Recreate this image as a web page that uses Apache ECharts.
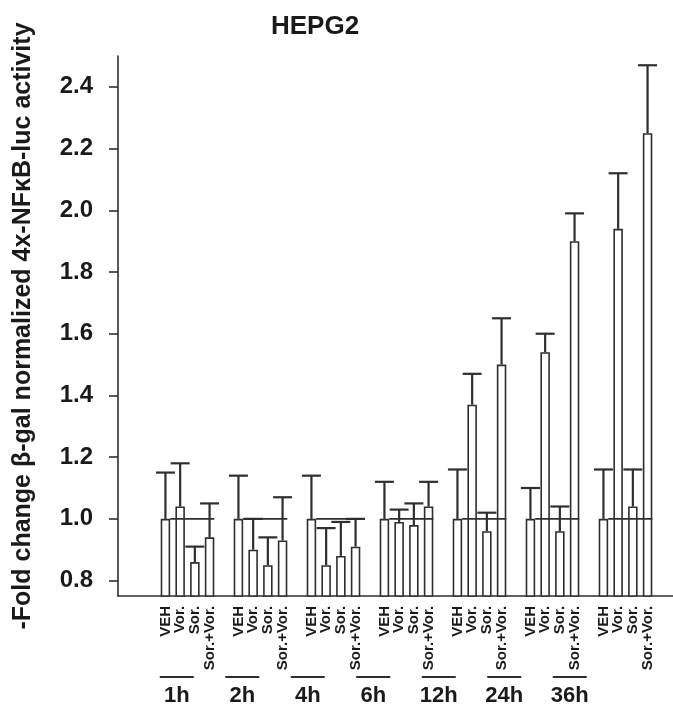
<!DOCTYPE html>
<html>
<head>
<meta charset="utf-8">
<title>HEPG2</title>
<script src="https://cdn.jsdelivr.net/npm/echarts@6/dist/echarts.min.js"></script>
<style>
  html, body { margin: 0; padding: 0; background: #fff; }
  #chart { width: 673px; height: 717px; }
</style>
</head>
<body>
<div id="chart"></div>
<script>
// Time points and treatments
const timePoints = ['1h', '2h', '4h', '6h', '12h', '24h', '36h'];
const treatments = ['VEH', 'Vor.', 'Sor.', 'Sor.+Vor.'];

// Mean fold change per treatment, one value per time point
const vehMean   = [1.00, 1.00, 1.00, 1.00, 1.00, 1.00, 1.00];
const vorMean   = [1.04, 0.90, 0.85, 0.99, 1.37, 1.54, 1.94];
const sorMean   = [0.86, 0.85, 0.88, 0.98, 0.96, 0.96, 1.04];
const sorVorMean = [0.94, 0.93, 0.91, 1.04, 1.50, 1.90, 2.25];

// Upper error (SD) per treatment
const vehErr    = [0.15, 0.14, 0.14, 0.12, 0.16, 0.10, 0.16];
const vorErr    = [0.14, 0.10, 0.12, 0.04, 0.10, 0.06, 0.18];
const sorErr    = [0.05, 0.09, 0.11, 0.07, 0.06, 0.08, 0.12];
const sorVorErr = [0.11, 0.14, 0.09, 0.08, 0.15, 0.09, 0.22];

// Y axis tick labels
const yTicks = [0.8, 1.0, 1.2, 1.4, 1.6, 1.8, 2.0, 2.2, 2.4];

const means = [vehMean, vorMean, sorMean, sorVorMean];
const errs = [vehErr, vorErr, sorErr, sorVorErr];

const FONT = '"Liberation Sans", Arial, Helvetica, sans-serif';
const INK = '#1a1a1a';
const LINE = '#2e2e2e';
const BAR_FRAC = 0.13;   // bar width as share of a category band
const GAP_FRAC = 0.55;   // gap between bars as share of bar width

// error bar data: [timeIndex, mean, mean + err, treatmentIndex]
const errData = [];
means.forEach((arr, k) => {
  arr.forEach((m, g) => errData.push([g, m, +(m + errs[k][g]).toFixed(3), k]));
});

// horizontal reference at the vehicle level of each time point
const refData = vehMean.map((v, g) => [g, v]);

function barOffset(api, k) {
  const band = api.size([1, 0])[0];
  const bw = band * BAR_FRAC;
  const step = bw * (1 + GAP_FRAC);
  return { band: band, bw: bw, off: (k - 1.5) * step };
}

const barSeries = treatments.map((name, k) => ({
  name: name,
  type: 'bar',
  xAxisIndex: 0,
  yAxisIndex: 0,
  data: means[k],
  barWidth: (BAR_FRAC * 100) + '%',
  barGap: (GAP_FRAC * 100) + '%',
  itemStyle: { color: '#fff', borderColor: LINE, borderWidth: 1.6 },
  z: 2,
  label: {
    show: true,
    position: 'bottom',
    distance: 9,
    rotate: 90,
    align: 'right',
    verticalAlign: 'middle',
    formatter: '{a}',
    fontFamily: FONT,
    fontWeight: 'bold',
    fontSize: 15,
    color: INK
  },
  emphasis: { disabled: true },
  animation: false
}));

const option = {
  animation: false,
  backgroundColor: '#fff',
  title: {
    text: 'HEPG2',
    left: 266,
    top: 9,
    textStyle: { fontFamily: FONT, fontWeight: 'bold', fontSize: 26, color: INK }
  },
  grid: [
    { left: 151, top: 56, width: 511, height: 540 },   // bars
    { left: 118, right: 0, top: 56, height: 540 },     // baseline
    { left: 144, top: 56, width: 458.5, height: 540 }  // time point labels
  ],
  xAxis: [
    {
      gridIndex: 0, type: 'category', data: timePoints,
      axisLine: { show: false }, axisTick: { show: false }, axisLabel: { show: false },
      splitLine: { show: false }
    },
    {
      gridIndex: 1, type: 'value', min: 0, max: 1,
      axisLine: { show: true, lineStyle: { color: LINE, width: 1.6 } },
      axisTick: { show: false }, axisLabel: { show: false }, splitLine: { show: false }
    },
    {
      gridIndex: 2, type: 'category', data: timePoints,
      axisLine: { show: false }, axisTick: { show: false }, splitLine: { show: false },
      axisLabel: {
        interval: 0,
        margin: 80,
        formatter: v => '{line| }\n{t|' + v + '}',
        rich: {
          line: { width: 34, height: 2, lineHeight: 2, fontSize: 2, backgroundColor: LINE },
          t: { fontFamily: FONT, fontWeight: 'bold', fontSize: 22, lineHeight: 36, color: INK }
        }
      }
    }
  ],
  yAxis: [
    {
      gridIndex: 0, type: 'value', min: 0.75, max: 2.5, offset: 33,
      axisLine: { show: true, lineStyle: { color: LINE, width: 1.6 } },
      axisTick: { show: true, inside: false, length: 9, customValues: yTicks,
                  lineStyle: { color: LINE, width: 1.6 } },
      axisLabel: {
        customValues: yTicks,
        formatter: v => Number(v).toFixed(1),
        margin: 25,
        fontFamily: FONT, fontWeight: 'bold', fontSize: 24, color: INK
      },
      splitLine: { show: false },
      name: '-Fold change \u03B2-gal normalized 4x-NF\u03BAB-luc activity',
      nameLocation: 'middle',
      nameGap: 82,
      nameTextStyle: { fontFamily: FONT, fontWeight: 'bold', fontSize: 25, color: INK }
    },
    { gridIndex: 1, type: 'value', show: false },
    { gridIndex: 2, type: 'value', show: false }
  ],
  series: barSeries.concat([
    {
      name: 'error',
      type: 'custom',
      xAxisIndex: 0,
      yAxisIndex: 0,
      z: 4,
      data: errData,
      renderItem: function (params, api) {
        const g = api.value(0);
        const k = api.value(3);
        const o = barOffset(api, k);
        const p0 = api.coord([g, api.value(1)]);
        const p1 = api.coord([g, api.value(2)]);
        const x = p0[0] + o.off;
        const half = o.band * 0.13;
        const style = { stroke: LINE, lineWidth: 2.2, fill: null };
        return {
          type: 'group',
          children: [
            { type: 'line', shape: { x1: x, y1: p0[1], x2: x, y2: p1[1] }, style: style },
            { type: 'line', shape: { x1: x - half, y1: p1[1], x2: x + half, y2: p1[1] }, style: style }
          ]
        };
      }
    },
    {
      name: 'vehicle level',
      type: 'custom',
      xAxisIndex: 0,
      yAxisIndex: 0,
      z: 3,
      data: refData,
      renderItem: function (params, api) {
        const g = api.value(0);
        const p = api.coord([g, api.value(1)]);
        const a = barOffset(api, 0);
        const b = barOffset(api, 3);
        return {
          type: 'line',
          shape: { x1: p[0] + a.off + a.bw / 2, y1: p[1], x2: p[0] + b.off + b.bw / 2, y2: p[1] },
          style: { stroke: LINE, lineWidth: 1.6 }
        };
      }
    }
  ])
};

const chart = echarts.init(document.getElementById('chart'), null, { renderer: 'canvas' });
chart.setOption(option);
</script>
</body>
</html>
